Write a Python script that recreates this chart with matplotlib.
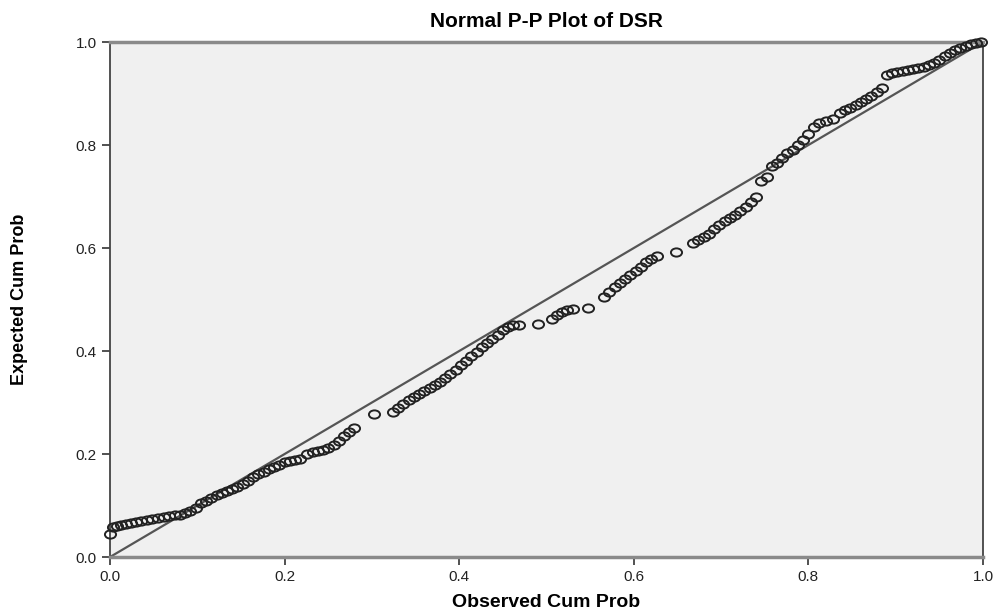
import matplotlib
matplotlib.use("Agg")
import matplotlib.pyplot as plt
from matplotlib.path import Path
from matplotlib.transforms import Affine2D

# observed / expected cumulative probabilities
observed = [
    0.000, 0.003, 0.008, 0.012, 0.018, 0.024, 0.030, 0.036, 0.042, 0.048,
    0.055, 0.062, 0.068, 0.074, 0.080, 0.086, 0.092, 0.098, 0.104, 0.110,
    0.116, 0.122, 0.128, 0.134, 0.140, 0.146, 0.152, 0.158, 0.164, 0.170,
    0.176, 0.182, 0.188, 0.194, 0.200, 0.206, 0.212, 0.218, 0.226, 0.232,
    0.238, 0.244, 0.250, 0.256, 0.262, 0.268, 0.274, 0.280,
    0.302,
    0.324, 0.330, 0.336, 0.342, 0.348, 0.354, 0.360, 0.366, 0.372, 0.378,
    0.384, 0.390, 0.396, 0.402, 0.408, 0.414, 0.420, 0.426, 0.432, 0.438,
    0.444, 0.450, 0.456, 0.462, 0.468,
    0.490,
    0.506, 0.512, 0.518, 0.524, 0.530,
    0.548,
    0.566, 0.572, 0.578, 0.584, 0.590, 0.596, 0.602, 0.608, 0.614, 0.620, 0.626,
    0.648,
    0.668, 0.674, 0.680, 0.686, 0.692, 0.698, 0.704, 0.710, 0.716, 0.722,
    0.728, 0.734, 0.740,
    0.746, 0.752, 0.758, 0.764, 0.770, 0.776, 0.782, 0.788, 0.794, 0.800,
    0.806, 0.812, 0.820, 0.828, 0.836, 0.842, 0.848, 0.854, 0.860, 0.866,
    0.872, 0.878, 0.884,
    0.890, 0.896, 0.902, 0.908, 0.914, 0.920, 0.926, 0.932, 0.938, 0.944,
    0.950, 0.956, 0.962, 0.968, 0.974, 0.980, 0.986, 0.992, 0.998,
]
expected = [
    0.045, 0.058, 0.060, 0.062, 0.064, 0.066, 0.068, 0.070, 0.072, 0.074,
    0.076, 0.078, 0.080, 0.082, 0.082, 0.086, 0.090, 0.096, 0.104, 0.108,
    0.114, 0.120, 0.124, 0.128, 0.132, 0.136, 0.142, 0.148, 0.156, 0.162,
    0.166, 0.170, 0.174, 0.178, 0.184, 0.186, 0.188, 0.190, 0.200, 0.204,
    0.206, 0.208, 0.212, 0.218, 0.226, 0.234, 0.242, 0.250,
    0.278,
    0.282, 0.290, 0.298, 0.304, 0.310, 0.316, 0.322, 0.328, 0.334, 0.340,
    0.348, 0.356, 0.364, 0.372, 0.380, 0.390, 0.398, 0.408, 0.416, 0.424,
    0.432, 0.440, 0.446, 0.450, 0.450,
    0.452,
    0.462, 0.470, 0.476, 0.480, 0.482,
    0.483,
    0.504, 0.514, 0.524, 0.532, 0.540, 0.548, 0.556, 0.564, 0.572, 0.578, 0.584,
    0.592,
    0.610, 0.616, 0.622, 0.628, 0.636, 0.644, 0.652, 0.658, 0.664, 0.672,
    0.680, 0.690, 0.700,
    0.730, 0.738, 0.760, 0.766, 0.774, 0.784, 0.790, 0.800, 0.810, 0.822,
    0.834, 0.842, 0.846, 0.850, 0.862, 0.868, 0.872, 0.878, 0.884, 0.890,
    0.896, 0.902, 0.910,
    0.936, 0.940, 0.942, 0.944, 0.946, 0.948, 0.950, 0.952, 0.956, 0.960,
    0.966, 0.972, 0.978, 0.984, 0.988, 0.992, 0.996, 0.998, 1.000,
]
ticks = [0.0, 0.2, 0.4, 0.6, 0.8, 1.0]
tick_labels = ["0.0", "0.2", "0.4", "0.6", "0.8", "1.0"]

plt.rcParams['font.family'] = ['Liberation Sans', 'DejaVu Sans']

fig = plt.figure(figsize=(10.04, 6.15), dpi=100)
ax = fig.add_axes([0.1096, 0.0943, 0.8695, 0.8374])
ax.set_facecolor('#f0f0f0')

# slightly wide open circle, like the stretched SPSS markers
ring = Path.unit_circle().transformed(Affine2D().scale(1.35, 1.0))

# reference diagonal
ax.plot([0, 1], [0, 1], color='#555555', lw=1.6, zorder=2)
ax.plot(observed, expected, linestyle='none', marker=ring, ms=8, mfc='none',
        mec='#222222', mew=1.4, zorder=3, clip_on=False)

ax.set_xlim(0, 1)
ax.set_ylim(0, 1)
ax.set_xticks(ticks)
ax.set_xticklabels(tick_labels)
ax.set_yticks(ticks)
ax.set_yticklabels(tick_labels)
ax.tick_params(direction='out', length=6, width=1.2, color='#333333',
               labelsize=11, labelcolor='#222222')

for side in ('left', 'right'):
    ax.spines[side].set_color('#444444')
    ax.spines[side].set_linewidth(1.3)
for side in ('top', 'bottom'):
    ax.spines[side].set_color('#8a8a8a')
    ax.spines[side].set_linewidth(2.5)

ax.set_title("Normal P-P Plot of DSR", fontsize=15, fontweight='bold', pad=11)
ax.set_xlabel("Observed Cum Prob", fontsize=14, fontweight='bold', labelpad=7)
ax.set_ylabel("Expected Cum Prob", fontsize=13, fontweight='bold', labelpad=34)

fig.savefig("out.png", dpi=100)
